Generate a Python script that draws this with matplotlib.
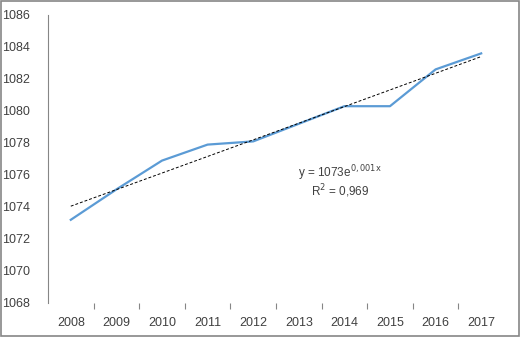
import numpy as np
import matplotlib
matplotlib.use("Agg")
import matplotlib.pyplot as plt
from matplotlib.patches import Rectangle

plt.rcParams['font.family'] = ['Liberation Sans', 'DejaVu Sans']

years = [2008, 2009, 2010, 2011, 2012, 2013, 2014, 2015, 2016, 2017]
values = [1073.2, 1075.1, 1076.9, 1077.9, 1078.1, 1079.2, 1080.3, 1080.3, 1082.6, 1083.6]
y_ticks = [1068, 1070, 1072, 1074, 1076, 1078, 1080, 1082, 1084, 1086]
eq_text = r"y = 1073e$^{\mathrm{0,001x}}$"
r2_text = r"R$^{\mathrm{2}}$ = 0,969"

fig = plt.figure(figsize=(5.2, 3.37), dpi=100)
ax = fig.add_axes([0.0923, 0.1009, 0.8769, 0.8546])

x = np.arange(1, len(years) + 1)
ax.plot(x, values, color='#5B9BD5', lw=1.6, solid_joinstyle='round', zorder=3)

# exponential trendline like Excel: y = a*e^(b*x)
b, ln_a = np.polyfit(x, np.log(values), 1)
trend = np.exp(ln_a) * np.exp(b * x)
ax.plot(x, trend, color='black', lw=0.7, ls=(0, (3, 2)), zorder=4)

ax.set_xlim(0.5, len(years) + 0.5)
ax.set_ylim(y_ticks[0], y_ticks[-1])
ax.set_yticks(y_ticks)
ax.set_yticklabels([str(v) for v in y_ticks])
ax.set_xticks(x)
ax.set_xticklabels([str(y) for y in years])
ax.set_xticks(np.arange(1.5, len(years), 1), minor=True)

ax.tick_params(axis='y', length=0, pad=13, labelsize=9, labelcolor='#404040')
ax.tick_params(axis='x', which='major', length=0, pad=10, labelsize=9, labelcolor='#404040')
ax.tick_params(axis='x', which='minor', length=4, width=0.8, color='#868686', direction='out')

for s in ['top', 'right', 'bottom']:
    ax.spines[s].set_visible(False)
ax.spines['left'].set_color('#868686')
ax.spines['left'].set_linewidth(0.8)

ax.text(6.9, 1076.1, eq_text, fontsize=8.5, color='#404040', ha='center', va='center')
ax.text(6.9, 1075.0, r2_text, fontsize=8.5, color='#404040', ha='center', va='center')

fig.patches.append(Rectangle((0.002, 0.003), 0.996, 0.994, transform=fig.transFigure,
                             fill=False, edgecolor='#868686', lw=1.2))

fig.savefig('out.png', dpi=100)
